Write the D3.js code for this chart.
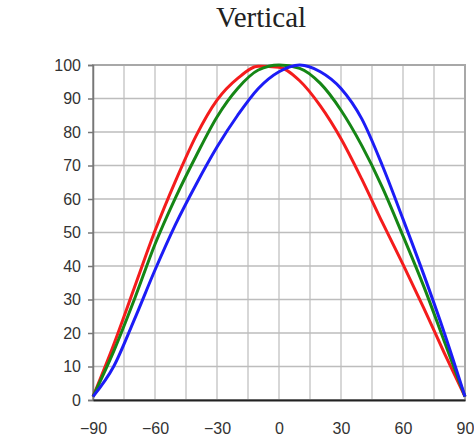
<!DOCTYPE html>
<html>
<head>
<meta charset="utf-8">
<script src="https://cdn.jsdelivr.net/npm/d3@7"></script>
<style>
  body { margin: 0; background: #fff; }
  .tick text { font-family: "Liberation Sans Narrow", "Arial Narrow", sans-serif; font-size: 16px; fill: #333; }
</style>
</head>
<body>
<div class="chart"></div>
<script>
const width = 474;
const height = 445;

// angle (deg) and relative intensity
const angles = [-90, -80, -70, -60, -50, -40, -30, -20, -10, 0, 10, 20, 30, 40, 50, 60, 70, 80, 90];
const red   = [1, 16.5, 33.5, 50.5, 65.5, 79, 89.5, 96, 99.6, 99.3, 95.3, 87.8, 78, 66, 53, 40.5, 27.5, 14, 1];
const green = [1, 14.5, 30, 46.5, 60.5, 73, 84.5, 93, 98.5, 100, 99, 94.5, 86.5, 76, 63.5, 49, 34, 17.5, 1];
const blue  = [1, 10, 24, 38.8, 52.5, 64.5, 75.5, 85, 93, 98, 100, 98, 93, 84, 70, 54, 37.5, 20, 1];

const xTicks = [-90, -60, -30, 0, 30, 60, 90];
const yTicks = [0, 10, 20, 30, 40, 50, 60, 70, 80, 90, 100];
const xGrid = d3.range(-90, 91, 15);

const series = [
    {name: "red", color: "#f41c1c", values: red},
    {name: "green", color: "#158615", values: green},
    {name: "blue", color: "#1c1cf6", values: blue}
];

const margin = {top: 65, right: 9, bottom: 45, left: 93};

let svg = d3.select(".chart")
    .append("svg")
    .attr("width", width)
    .attr("height", height);

let x = d3.scaleLinear().domain([-90, 90]).range([margin.left, width - margin.right]);
let y = d3.scaleLinear().domain([0, 100]).range([height - margin.bottom, margin.top]);

// title
svg.append("text")
    .attr("x", 261)
    .attr("y", 27)
    .attr("text-anchor", "middle")
    .style("font-family", "'Liberation Serif', 'Times New Roman', serif")
    .style("font-size", "29px")
    .style("fill", "#222")
    .text("Vertical");

// grid
svg.append("g")
    .selectAll("line")
    .data(xGrid.slice(1, -1))
    .enter()
    .append("line")
    .attr("x1", d => x(d)).attr("x2", d => x(d))
    .attr("y1", y(0)).attr("y2", y(100))
    .attr("stroke", "#cacaca")
    .attr("stroke-width", 1.5);

svg.append("g")
    .selectAll("line")
    .data(yTicks.slice(1, -1))
    .enter()
    .append("line")
    .attr("x1", x(-90)).attr("x2", x(90))
    .attr("y1", d => y(d)).attr("y2", d => y(d))
    .attr("stroke", "#bdbdbd")
    .attr("stroke-width", 1.5);

// frame
svg.append("rect")
    .attr("x", x(-90)).attr("y", y(100))
    .attr("width", x(90) - x(-90)).attr("height", y(0) - y(100))
    .attr("fill", "none")
    .attr("stroke", "#a8a8a8")
    .attr("stroke-width", 2);

// axes
let yAxis = svg.append("g")
    .attr("transform", `translate(${x(-90)},0)`)
    .call(d3.axisLeft(y).tickValues(yTicks).tickSize(5).tickPadding(7));
yAxis.select(".domain").attr("stroke", "#777").attr("stroke-width", 1.5);
yAxis.selectAll(".tick line").attr("stroke", "#777").attr("stroke-width", 1.5);

let xAxis = svg.append("g")
    .attr("transform", `translate(0,${y(0)})`)
    .call(d3.axisBottom(x).tickValues(xTicks).tickSize(0).tickPadding(23));
xAxis.select(".domain").attr("stroke", "#222").attr("stroke-width", 2);

// curves
let line = d3.line()
    .x((d, i) => x(angles[i]))
    .y(d => y(d))
    .curve(d3.curveMonotoneX);

svg.append("g")
    .selectAll("path")
    .data(series)
    .enter()
    .append("path")
    .attr("d", d => line(d.values))
    .attr("fill", "none")
    .attr("stroke", d => d.color)
    .attr("stroke-width", 3);
</script>
</body>
</html>
